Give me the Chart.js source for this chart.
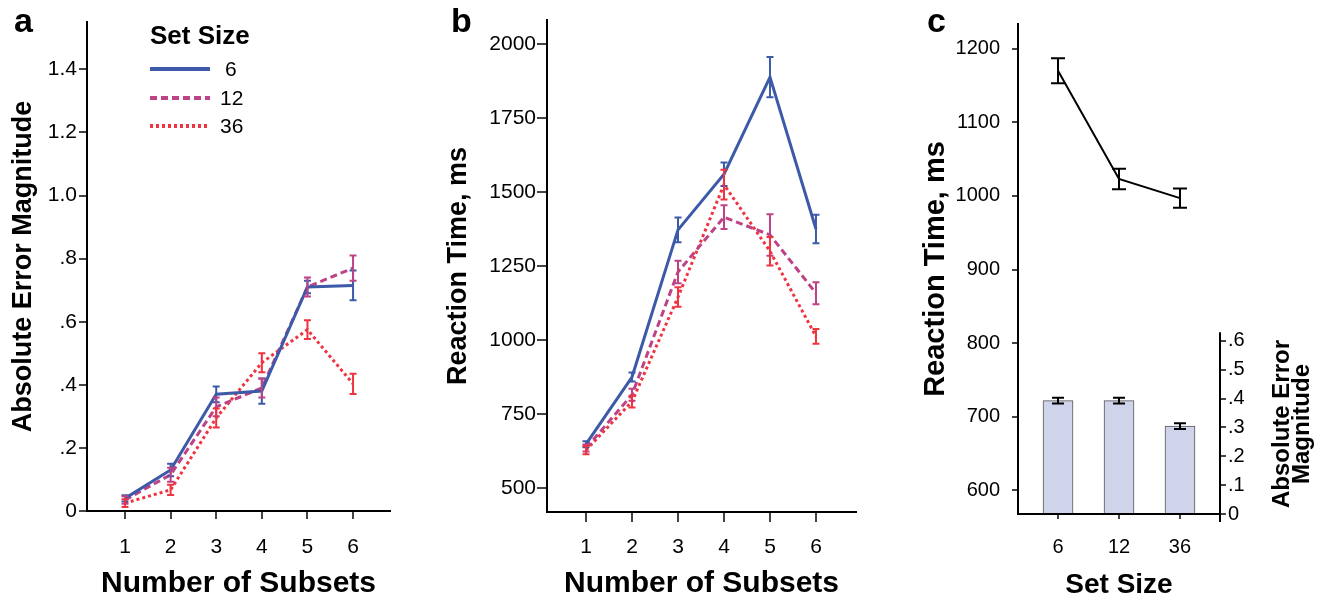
<!DOCTYPE html>
<html>
<head>
<meta charset="utf-8">
<title>Error magnitude and reaction time by subsets and set size</title>
<script src="https://cdn.jsdelivr.net/npm/chart.js@4.4.0/dist/chart.umd.min.js"></script>
<style>
  body { margin: 0; background: #fff; }
  #wrap { position: relative; width: 1317px; height: 598px; }
  canvas { position: absolute; top: 0; }
</style>
</head>
<body>
<div id="wrap">
  <canvas id="chartA" width="430" height="598" style="left:0"></canvas>
  <canvas id="chartB" width="430" height="598" style="left:430px"></canvas>
  <canvas id="chartC" width="457" height="598" style="left:860px"></canvas>
</div>
<script>
'use strict';

// categories
const subsets = [1, 2, 3, 4, 5, 6];
const setSizes = ['6', '12', '36'];

// panel a: absolute error magnitude (mean, s.e.)
const errSize6 = [0.04, 0.13, 0.37, 0.38, 0.71, 0.715];
const errSize6Se = [0.01, 0.02, 0.025, 0.04, 0.02, 0.047];
const errSize12 = [0.035, 0.115, 0.33, 0.39, 0.71, 0.77];
const errSize12Se = [0.012, 0.022, 0.03, 0.03, 0.03, 0.04];
const errSize36 = [0.025, 0.067, 0.295, 0.47, 0.575, 0.403];
const errSize36Se = [0.012, 0.016, 0.03, 0.03, 0.03, 0.032];

// panel b: reaction time, ms
const rtSize6 = [648, 875, 1372, 1560, 1888, 1375];
const rtSize6Se = [10, 15, 42, 40, 68, 48];
const rtSize12 = [635, 815, 1230, 1415, 1355, 1158];
const rtSize12Se = [12, 20, 38, 40, 70, 37];
const rtSize36 = [628, 792, 1145, 1525, 1300, 1012];
const rtSize36Se = [14, 20, 33, 50, 48, 25];

// panel c: by set size
const rtBySetSize = [1170, 1023, 997];
const rtBySetSizeSe = [17, 14, 13];
const errBySetSize = [0.393, 0.393, 0.305];
const errBySetSizeSe = [0.01, 0.01, 0.01];

// tick labels
const errTicks = [0, 0.2, 0.4, 0.6, 0.8, 1.0, 1.2, 1.4];
const errTickLabels = ['0', '.2', '.4', '.6', '.8', '1.0', '1.2', '1.4'];
const rtTicksB = [500, 750, 1000, 1250, 1500, 1750, 2000];
const rtTicksC = [600, 700, 800, 900, 1000, 1100, 1200];
const errTicksC = [0, 0.1, 0.2, 0.3, 0.4, 0.5, 0.6];
const errTickLabelsC = ['0', '.1', '.2', '.3', '.4', '.5', '.6'];

const family = "'Liberation Sans', Arial, sans-serif";
const seriesStyle = [
  { color: '#3d5aa9', dash: [] },
  { color: '#bd4286', dash: [7, 4] },
  { color: '#ef3340', dash: [3, 3] }
];

function lineSet(label, values, errors, style) {
  return {
    label: label,
    data: values.map((v, i) => ({ x: subsets[i], y: v })),
    errors: errors,
    borderColor: style.color,
    borderDash: style.dash,
    borderWidth: 3,
    pointRadius: 0,
    tension: 0,
    fill: false,
    capWidth: 7
  };
}

// draws vertical error bars with caps
const errorBarPlugin = {
  id: 'errorBars',
  afterDatasetsDraw(chart) {
    const ctx = chart.ctx;
    chart.data.datasets.forEach((ds, di) => {
      if (!ds.errors) return;
      const meta = chart.getDatasetMeta(di);
      const xs = chart.scales[meta.xAxisID];
      const ys = chart.scales[meta.yAxisID];
      ctx.save();
      ctx.strokeStyle = ds.errorColor || ds.borderColor;
      ctx.lineWidth = ds.errorWidth || 2;
      ctx.setLineDash([]);
      ds.data.forEach((pt, i) => {
        const x = xs.getPixelForValue(pt.x);
        const top = ys.getPixelForValue(pt.y + ds.errors[i]);
        const bot = ys.getPixelForValue(pt.y - ds.errors[i]);
        const half = ds.capWidth / 2;
        ctx.beginPath();
        ctx.moveTo(x, top);
        ctx.lineTo(x, bot);
        ctx.moveTo(x - half, top);
        ctx.lineTo(x + half, top);
        ctx.moveTo(x - half, bot);
        ctx.lineTo(x + half, bot);
        ctx.stroke();
      });
      ctx.restore();
    });
  }
};

// panel letter, in canvas coordinates
function letterPlugin(text, x, y) {
  return {
    id: 'letter',
    afterDraw(chart) {
      const ctx = chart.ctx;
      ctx.save();
      ctx.fillStyle = '#000';
      ctx.font = 'bold 34px ' + family;
      ctx.textBaseline = 'alphabetic';
      ctx.fillText(text, x, y);
      ctx.restore();
    }
  };
}

function xAxis(min, max, height, tickLen, pad, labels, title, titleSize) {
  return {
    type: 'linear',
    min: min,
    max: max,
    offset: false,
    afterBuildTicks: s => { s.ticks = labels.map((v, i) => ({ value: i + 1 })); },
    afterFit: s => { s.height = height; },
    grid: { drawOnChartArea: false, offset: false, tickLength: tickLen, color: '#444', lineWidth: 2 },
    border: { color: '#000', width: 2 },
    ticks: {
      padding: pad, color: '#000', maxRotation: 0, autoSkip: false,
      font: { family: family, size: 21 },
      callback: (v, i) => labels[i]
    },
    title: {
      display: true, text: title, color: '#000', padding: { top: 0, bottom: -4 },
      font: { family: family, size: titleSize, weight: 'bold' }
    }
  };
}

function yAxis(min, max, width, tickLen, pad, ticks, labels, title, titlePad, titleSize) {
  return {
    min: min,
    max: max,
    afterBuildTicks: s => { s.ticks = ticks.map(v => ({ value: v })); },
    afterFit: s => { s.width = width; },
    grid: { drawOnChartArea: false, tickLength: tickLen, color: '#444', lineWidth: 2 },
    border: { color: '#000', width: 2 },
    ticks: {
      padding: pad, color: '#000',
      font: { family: family, size: 21 },
      callback: (v, i) => labels[i]
    },
    title: {
      display: true, text: title, color: '#000', padding: { top: titlePad, bottom: 0 },
      font: { family: family, size: titleSize, weight: 'bold' }
    }
  };
}

const baseOptions = {
  responsive: false,
  animation: false,
  plugins: { legend: { display: false }, tooltip: { enabled: false } }
};

// legend for panel a
const setSizeLegend = {
  id: 'setSizeLegend',
  afterDraw(chart) {
    const ctx = chart.ctx;
    ctx.save();
    ctx.fillStyle = '#000';
    ctx.textBaseline = 'middle';
    ctx.font = 'bold 26px ' + family;
    ctx.fillText('Set Size', 150, 37);
    const rows = [69, 98, 126];
    chart.data.datasets.forEach((ds, i) => {
      ctx.strokeStyle = ds.borderColor;
      ctx.lineWidth = 4;
      ctx.setLineDash(ds.borderDash);
      ctx.beginPath();
      ctx.moveTo(150, rows[i]);
      ctx.lineTo(210, rows[i]);
      ctx.stroke();
      ctx.font = '21px ' + family;
      ctx.fillText(setSizes[i], i === 0 ? 225 : 220, rows[i] + 1);
    });
    ctx.restore();
  }
};

// panel a
new Chart(document.getElementById('chartA'), {
  type: 'line',
  data: {
    datasets: [
      lineSet('6', errSize6, errSize6Se, seriesStyle[0]),
      lineSet('12', errSize12, errSize12Se, seriesStyle[1]),
      lineSet('36', errSize36, errSize36Se, seriesStyle[2])
    ]
  },
  options: Object.assign({}, baseOptions, {
    layout: { padding: { top: 22, right: 40, left: 0, bottom: 0 } },
    scales: {
      x: xAxis(0.167, 6.81, 87, 8, 16, subsets, 'Number of Subsets', 30),
      y: yAxis(0, 1.55, 87, 8, 2, errTicks, errTickLabels, 'Absolute Error Magnitude', 7, 27)
    }
  }),
  plugins: [errorBarPlugin, setSizeLegend, letterPlugin('a', 14, 32)]
});

// panel b
new Chart(document.getElementById('chartB'), {
  type: 'line',
  data: {
    datasets: [
      lineSet('6', rtSize6, rtSize6Se, seriesStyle[0]),
      lineSet('12', rtSize12, rtSize12Se, seriesStyle[1]),
      lineSet('36', rtSize36, rtSize36Se, seriesStyle[2])
    ]
  },
  options: Object.assign({}, baseOptions, {
    layout: { padding: { top: 20, right: 4, left: 0, bottom: 0 } },
    scales: {
      x: xAxis(0.152, 6.87, 86, 10, 13, subsets, 'Number of Subsets', 30),
      y: yAxis(419, 2081, 117, 10, 1, rtTicksB, rtTicksB.map(String), 'Reaction Time, ms', 12, 27)
    }
  }),
  plugins: [errorBarPlugin, letterPlugin('b', 21, 32)]
});

// right error axis line and its two line title for panel c
const rightAxisDecor = {
  id: 'rightAxisDecor',
  afterDraw(chart) {
    const ctx = chart.ctx;
    const y2 = chart.scales.y2;
    const area = chart.chartArea;
    ctx.save();
    ctx.strokeStyle = '#000';
    ctx.lineWidth = 2;
    ctx.beginPath();
    ctx.moveTo(area.right, y2.getPixelForValue(0.63));
    ctx.lineTo(area.right, area.bottom + 8);
    ctx.stroke();
    ctx.fillStyle = '#000';
    ctx.font = 'bold 24px ' + family;
    ctx.textAlign = 'center';
    ctx.textBaseline = 'middle';
    ctx.translate(area.right + 70, 424);
    ctx.rotate(-Math.PI / 2);
    ctx.fillText('Absolute Error', 0, -8);
    ctx.fillText('Magnitude', 0, 12);
    ctx.restore();
  }
};

const xC = xAxis(0.344, 3.656, 84, 5, 16, setSizes, 'Set Size', 28);
xC.ticks.font.size = 20;
const yC = yAxis(567.8, 1233.6, 158, 6, 12, rtTicksC, rtTicksC.map(String), 'Reaction Time, ms', 59, 29);
yC.ticks.font.size = 20;

new Chart(document.getElementById('chartC'), {
  type: 'line',
  data: {
    datasets: [
      {
        type: 'line',
        label: 'Reaction Time',
        data: rtBySetSize.map((v, i) => ({ x: i + 1, y: v })),
        errors: rtBySetSizeSe,
        borderColor: '#000',
        borderWidth: 2,
        pointRadius: 0,
        tension: 0,
        capWidth: 14,
        yAxisID: 'y'
      },
      {
        type: 'bar',
        label: 'Absolute Error Magnitude',
        data: errBySetSize.map((v, i) => ({ x: i + 1, y: v })),
        errors: errBySetSizeSe,
        errorColor: '#000',
        capWidth: 12,
        backgroundColor: '#cfd4ea',
        borderColor: '#555',
        borderWidth: 1,
        barThickness: 30,
        yAxisID: 'y2'
      }
    ]
  },
  options: Object.assign({}, baseOptions, {
    layout: { padding: { top: 18, right: 0, left: 0, bottom: 0 } },
    scales: {
      x: xC,
      y: yC,
      y2: {
        position: 'right',
        min: 0,
        max: 1.699,
        afterBuildTicks: s => { s.ticks = errTicksC.map(v => ({ value: v })); },
        afterFit: s => { s.width = 97; },
        grid: { drawOnChartArea: false, tickLength: 6, color: '#444', lineWidth: 2 },
        border: { display: false },
        ticks: {
          padding: 2, color: '#000',
          font: { family: family, size: 20 },
          callback: (v, i) => errTickLabelsC[i]
        }
      }
    }
  }),
  plugins: [errorBarPlugin, rightAxisDecor, letterPlugin('c', 67, 32)]
});
</script>
</body>
</html>
